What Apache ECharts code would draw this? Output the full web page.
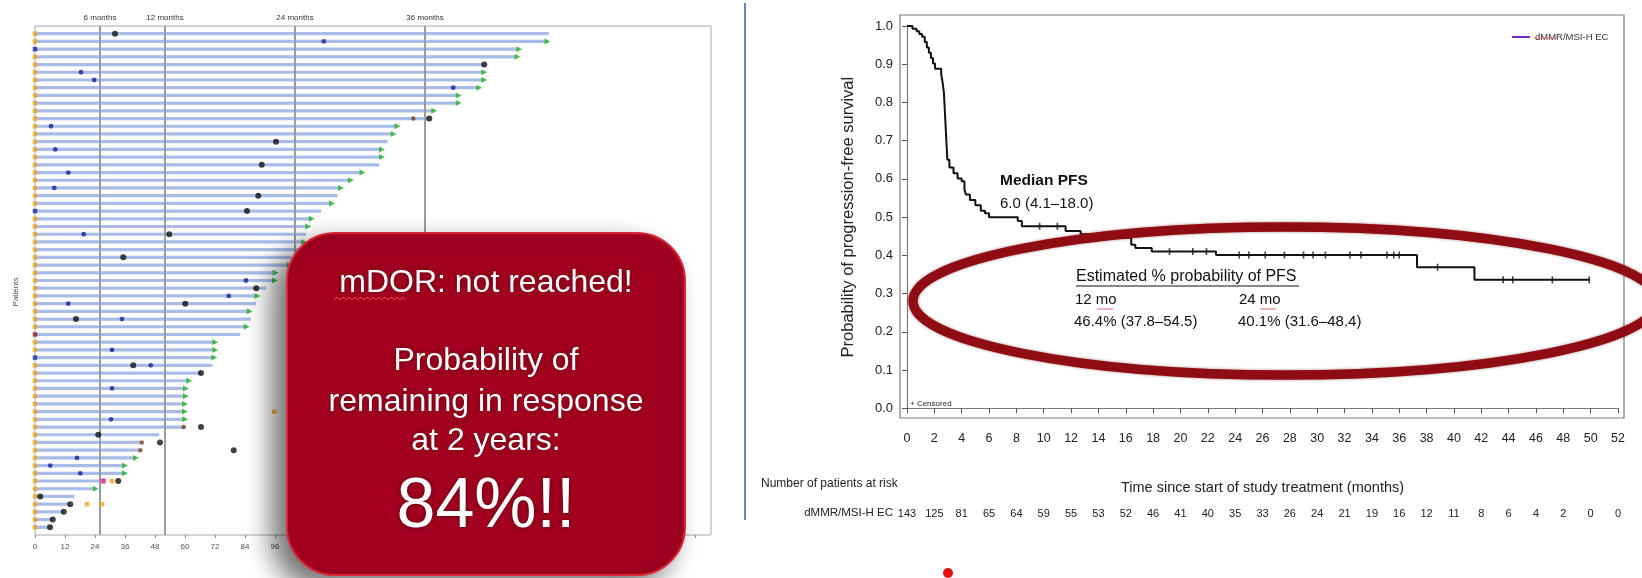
<!DOCTYPE html>
<html>
<head>
<meta charset="utf-8">
<script src="https://cdn.jsdelivr.net/npm/echarts@6/dist/echarts.min.js"></script>
<style>
  html, body { margin: 0; padding: 0; background: #ffffff; }
  #main { width: 1642px; height: 578px; }
</style>
</head>
<body>
<div id="main"></div>
<script>
// ---------------- Swimmer plot: duration of response (weeks), one row per patient, top to bottom ----------------
const responseWeeks = [205.5, 205, 193.7, 193, 179.7, 179.7, 179.7, 177.7, 169.5, 169.5,
  159.7, 157.7, 145, 143.5, 141, 138.8, 138.8, 137.7, 131, 126.4,
  122.4, 121, 118.8, 114.4, 110.7, 109.3, 108.4, 107.7, 107.3, 102.4,
  101.9, 96.3, 96, 92.4, 89, 88.4, 85.9, 86.4, 84.7, 82.1,
  72.1, 72.1, 71.7, 71, 66.4, 61.7, 60.4, 60.4, 60, 60,
  60.1, 59.5, 49.7, 42, 41.5, 40.4, 36, 36, 26.4, 24.3,
  15.7, 13.7, 11.5, 7.1, 6];
// marker at response start: o = orange, b = blue, r = dark red
const startMarker = ['o','o','b','o','o','o','o','o','o','o',
  'o','o','o','o','o','o','o','o','o','o',
  'o','o','o','b','o','o','o','o','o','o',
  'o','o','o','o','o','o','o','o','o','r',
  'o','o','b','o','o','o','o','o','o','o',
  'o','o','o','o','o','o','o','o','o','o',
  'o','o','o','o','o'];
// rows (1 = top) whose response is ongoing
const ongoingRows = [2,3,4,6,7,8,9,10,11,13,14,16,17,19,20,21,23,25,26,28,29,31,32,33,35,37,39,
  41,42,43,46,47,48,49,50,51,56,57,58,60];
// events as [weeks, row]
const blackDots = [[32,1],[179.7,5],[157.7,12],[96.4,15],[90.7,18],[89.3,22],[84.8,24],[53.7,27],
  [35.3,30],[88.5,34],[60.1,36],[16.4,38],[39.3,44],[66.4,45],[66.4,52],[25.3,53],[50,54],
  [79.5,55],[33.3,59],[2.1,61],[14.1,62],[11.5,63],[7.1,64],[6,65]];
const blueDots = [[115.5,2],[18.4,6],[23.7,7],[167.3,8],[6.4,13],[8.1,16],[13.3,19],[7.7,21],
  [19.5,27],[84.4,33],[77.5,35],[13.3,36],[34.8,38],[30.8,42],[46.3,44],[30.8,47],[30.4,51],
  [16.8,56],[6.1,57],[18.1,58]];
const brownDots = [[151.3,12],[59.5,52],[42.7,54],[42.1,55]];
const orangeMarks = [[95.7,50],[30.8,59],[20.8,62],[26.8,62]];
const magentaMarks = [[27.3,59]];
const landmarkWeeks = [26, 52, 104, 156];
const landmarkNames = ['6 months', '12 months', '24 months', '36 months'];

// ---------------- Kaplan-Meier progression-free survival ----------------
const kmMonths = [0, 0.4, 0.7, 0.9, 1.1, 1.3, 1.45, 1.6, 1.75, 1.9, 2.05, 2.5, 2.6, 2.7, 2.75, 2.8,
  2.85, 2.9, 2.95, 3.1, 3.4, 3.7, 4.0, 4.2, 4.3, 4.6, 5.0, 5.4, 5.7, 6.0, 8.1, 8.4,
  11.6, 12.7, 14.6, 16.4, 16.7, 17.9, 22.6, 37.3, 41.5, 49.9];
const kmSurv = [1.0, 0.993, 0.986, 0.979, 0.972, 0.958, 0.944, 0.93, 0.916, 0.902, 0.888, 0.874, 0.853, 0.825, 0.79, 0.755,
  0.72, 0.685, 0.65, 0.63, 0.615, 0.601, 0.594, 0.573, 0.559, 0.545, 0.531, 0.517, 0.51, 0.5, 0.49, 0.476,
  0.464, 0.455, 0.446, 0.428, 0.419, 0.41, 0.401, 0.369, 0.336, 0.336];
const censorMonths = [9.7, 11.0, 19.2, 20.9, 21.9, 24.3, 25.0, 26.2, 27.6, 29.0, 29.7, 30.6, 32.4, 33.2,
  35.1, 35.6, 36.0, 38.8, 43.6, 44.3, 47.2, 49.9];
const censorSurv = [0.476, 0.476, 0.41, 0.41, 0.41, 0.401, 0.401, 0.401, 0.401, 0.401, 0.401, 0.401, 0.401, 0.401,
  0.401, 0.401, 0.401, 0.369, 0.336, 0.336, 0.336, 0.336];
const atRiskMonths = [0,2,4,6,8,10,12,14,16,18,20,22,24,26,28,30,32,34,36,38,40,42,44,46,48,50,52];
const atRisk = [143,125,81,65,64,59,55,53,52,46,41,40,35,33,26,24,21,19,16,12,11,8,6,4,2,0,0];
const medianMonths = 6.0;
const landmarkMonths = [12, 24];

const ROWS = responseWeeks.length;
const rowValue = t => ROWS + 1 - t;
const SANS = '"Liberation Sans", Arial, sans-serif';
const NARROW = '"Liberation Sans Narrow", "Arial Narrow", "Liberation Sans", sans-serif';

const startColors = { o: '#f2a11c', b: '#1d2a9e', r: '#8e1a16' };

const chart = echarts.init(document.getElementById('main'), null, { renderer: 'canvas' });

const option = {
  animation: false,
  backgroundColor: '#ffffff',
  textStyle: { fontFamily: SANS },
  legend: {
    data: [{ name: 'dMMR/MSI-H EC', icon: 'rect', itemStyle: { color: '#6b2fc4' } }],
    left: 1507, top: 27, itemWidth: 18, itemHeight: 2, itemGap: 4,
    textStyle: { fontSize: 9.5, color: '#333', fontFamily: NARROW },
    selectedMode: false
  },
  grid: [
    { left: 35, top: 26, width: 676, height: 511, show: true, borderColor: '#a8a8a8', borderWidth: 1, backgroundColor: 'transparent' },
    { left: 900, top: 15, width: 724, height: 403, show: true, borderColor: '#7a7a7a', borderWidth: 1.2, backgroundColor: 'transparent' },
    { left: 907, top: 26, width: 711, height: 382.3 },
    { left: 907, top: 504, width: 711, height: 1 }
  ],
  xAxis: [
    {
      gridIndex: 0, type: 'value', min: 0, max: 270.4, interval: 12,
      name: 'Time since first response (weeks)', nameLocation: 'middle', nameGap: 29,
      nameTextStyle: { fontSize: 8.5, color: '#444' },
      axisLine: { show: false }, splitLine: { show: false },
      axisTick: { show: true, length: 3, lineStyle: { color: '#888' } },
      axisLabel: { fontSize: 8, color: '#555', margin: 8, showMaxLabel: false,
        formatter: v => (v <= 252 ? String(v) : '') }
    },
    { gridIndex: 1, type: 'value', min: 0, max: 1, show: false },
    {
      gridIndex: 2, type: 'value', min: 0, max: 52, interval: 2, offset: 10,
      name: 'Time since start of study treatment (months)', nameLocation: 'middle', nameGap: 62,
      nameTextStyle: { fontSize: 14.5, color: '#222', fontFamily: NARROW },
      axisLine: { show: true, lineStyle: { color: '#7a7a7a', width: 1.2 } },
      axisTick: { show: true, length: 5, lineStyle: { color: '#555' } },
      axisLabel: { fontSize: 12.5, color: '#222', margin: 14, fontFamily: NARROW },
      splitLine: { show: false }
    },
    {
      gridIndex: 3, type: 'value', min: 0, max: 52, interval: 2,
      axisLine: { show: false }, axisTick: { show: false }, splitLine: { show: false },
      axisLabel: { fontSize: 11, color: '#222', margin: 3, fontFamily: NARROW,
        formatter: v => String(atRisk[atRiskMonths.indexOf(v)]) }
    }
  ],
  yAxis: [
    {
      gridIndex: 0, type: 'value', min: 0, max: 66,
      axisLine: { show: false }, axisTick: { show: false }, axisLabel: { show: false }, splitLine: { show: false }
    },
    { gridIndex: 1, type: 'value', min: 0, max: 1, show: false },
    {
      gridIndex: 2, type: 'value', min: 0, max: 1, interval: 0.1, offset: 7,
      name: 'Probability of progression-free survival', nameLocation: 'middle', nameGap: 43, nameRotate: 90,
      nameTextStyle: { fontSize: 16.5, color: '#222', fontFamily: NARROW },
      axisLine: { show: true, lineStyle: { color: '#7a7a7a', width: 1.2 } },
      axisTick: { show: true, length: 5, lineStyle: { color: '#555' } },
      axisLabel: { fontSize: 13, color: '#222', margin: 7, fontFamily: NARROW, formatter: v => v.toFixed(1) },
      splitLine: { show: false }
    },
    { gridIndex: 3, type: 'value', min: 0, max: 1, show: false }
  ],
  series: [
    // response duration bars
    {
      type: 'custom', xAxisIndex: 0, yAxisIndex: 0, z: 2,
      data: responseWeeks.map((w, i) => [rowValue(i + 1), w]),
      encode: { x: 1, y: 0 },
      renderItem: (params, api) => {
        const row = api.value(0);
        const p0 = api.coord([0, row]);
        const p1 = api.coord([api.value(1), row]);
        return { type: 'line', shape: { x1: p0[0], y1: p0[1], x2: p1[0], y2: p1[1] },
          style: { stroke: '#a9bce9', lineWidth: 3.2 } };
      }
    },
    // month landmarks
    {
      type: 'scatter', xAxisIndex: 0, yAxisIndex: 0, z: 3, data: [],
      markLine: {
        silent: true, symbol: 'none',
        lineStyle: { color: '#9c9c9c', width: 2, type: 'solid' },
        label: { show: true, position: 'end', distance: 4, fontSize: 8, color: '#333', formatter: p => p.name },
        data: landmarkWeeks.map((w, i) => ({ xAxis: w, name: landmarkNames[i] }))
      }
    },
    {
      type: 'scatter', xAxisIndex: 0, yAxisIndex: 0, z: 4, symbol: 'rect', symbolSize: 4.5,
      data: startMarker.map((m, i) => ({ value: [0, rowValue(i + 1)], itemStyle: { color: startColors[m] } }))
    },
    {
      type: 'scatter', xAxisIndex: 0, yAxisIndex: 0, z: 5, symbol: 'triangle', symbolRotate: -90, symbolSize: [6, 6],
      itemStyle: { color: '#2db42a' },
      data: ongoingRows.map(t => [responseWeeks[t - 1], rowValue(t)])
    },
    {
      type: 'scatter', xAxisIndex: 0, yAxisIndex: 0, z: 5, symbolSize: 4.8, itemStyle: { color: '#1d2296' },
      data: blueDots.map(d => [d[0], rowValue(d[1])])
    },
    {
      type: 'scatter', xAxisIndex: 0, yAxisIndex: 0, z: 5, symbolSize: 4.5, itemStyle: { color: '#7b3a1c' },
      data: brownDots.map(d => [d[0], rowValue(d[1])])
    },
    {
      type: 'scatter', xAxisIndex: 0, yAxisIndex: 0, z: 6, symbolSize: 6, itemStyle: { color: '#111111' },
      data: blackDots.map(d => [d[0], rowValue(d[1])])
    },
    {
      type: 'scatter', xAxisIndex: 0, yAxisIndex: 0, z: 5, symbol: 'rect', symbolSize: 4.5, itemStyle: { color: '#f2a11c' },
      data: orangeMarks.map(d => [d[0], rowValue(d[1])])
    },
    {
      type: 'scatter', xAxisIndex: 0, yAxisIndex: 0, z: 5, symbol: 'rect', symbolSize: 5, itemStyle: { color: '#e0197d' },
      data: magentaMarks.map(d => [d[0], rowValue(d[1])])
    },
    // frame grid placeholder
    { type: 'scatter', xAxisIndex: 1, yAxisIndex: 1, data: [] },
    // KM curve
    {
      name: 'dMMR/MSI-H EC', type: 'line', xAxisIndex: 2, yAxisIndex: 2, step: 'end', clip: false,
      showSymbol: false, symbol: 'none', z: 4,
      lineStyle: { color: '#111111', width: 2 }, itemStyle: { color: '#111111' },
      data: kmMonths.map((m, i) => [m, kmSurv[i]]),
      markLine: {
        silent: true, symbol: 'none', label: { show: false },
        data: [
          [{ coord: [-0.5, 0.5], lineStyle: { color: '#666', width: 1.3, type: [4, 3] } }, { coord: [medianMonths, 0.5] }],
          [{ coord: [medianMonths, 0.5], lineStyle: { color: '#555', width: 1.3, type: [5, 3] } }, { coord: [medianMonths, -0.025] }],
          ...landmarkMonths.map(m => [
            { coord: [m, 1.028], lineStyle: { color: '#bdbdbd', width: 1.1, type: [5, 4] } },
            { coord: [m, -0.025] }
          ])
        ]
      }
    },
    {
      type: 'scatter', xAxisIndex: 2, yAxisIndex: 2, z: 5, symbol: 'rect', symbolSize: [1.6, 7],
      itemStyle: { color: '#111111' },
      data: censorMonths.map((m, i) => [m, censorSurv[i]])
    },
    { type: 'scatter', xAxisIndex: 3, yAxisIndex: 3, data: [] }
  ],
  graphic: [
    // swimmer y-axis title
    { type: 'text', z: 50, x: 16, y: 292, rotation: Math.PI / 2,
      style: { text: 'Patients', font: '8px ' + SANS, fill: '#555', align: 'center', verticalAlign: 'middle' } },
    // panel divider
    { type: 'line', z: 50, shape: { x1: 745, y1: 3, x2: 745, y2: 520 }, style: { stroke: '#6687bd', lineWidth: 2 } },
    // KM annotations
    { type: 'text', z: 50, x: 1000, y: 181, style: { text: 'Median PFS', font: 'bold 15.5px ' + NARROW, fill: '#111', verticalAlign: 'middle' } },
    { type: 'text', z: 50, x: 1000, y: 204, style: { text: '6.0 (4.1\u201318.0)', font: '15px ' + NARROW, fill: '#111', verticalAlign: 'middle' } },
    { type: 'text', z: 50, x: 1076, y: 277, style: { text: 'Estimated % probability of PFS', font: '16px ' + NARROW, fill: '#111', verticalAlign: 'middle' } },
    { type: 'line', z: 50, shape: { x1: 1076, y1: 286, x2: 1299, y2: 286 }, style: { stroke: '#111', lineWidth: 1.2 } },
    { type: 'text', z: 50, x: 1075, y: 300, style: { text: '12 mo', font: '15px ' + NARROW, fill: '#111', verticalAlign: 'middle' } },
    { type: 'text', z: 50, x: 1074, y: 322, style: { text: '46.4% (37.8\u201354.5)', font: '15px ' + NARROW, fill: '#111', verticalAlign: 'middle' } },
    { type: 'text', z: 50, x: 1239, y: 300, style: { text: '24 mo', font: '15px ' + NARROW, fill: '#111', verticalAlign: 'middle' } },
    { type: 'text', z: 50, x: 1238, y: 322, style: { text: '40.1% (31.6\u201348.4)', font: '15px ' + NARROW, fill: '#111', verticalAlign: 'middle' } },
    { type: 'line', z: 50, shape: { x1: 1097, y1: 309, x2: 1113, y2: 309 }, style: { stroke: '#e56b6b', lineWidth: 1 } },
    { type: 'line', z: 50, shape: { x1: 1260, y1: 309, x2: 1276, y2: 309 }, style: { stroke: '#e56b6b', lineWidth: 1 } },
    { type: 'line', z: 50, shape: { x1: 1534, y1: 38, x2: 1557, y2: 38 }, style: { stroke: '#e56b6b', lineWidth: 1 } },
    { type: 'text', z: 50, x: 910, y: 404, style: { text: '+ Censored', font: '8px ' + NARROW, fill: '#222', verticalAlign: 'middle' } },
    // number at risk table
    { type: 'text', z: 50, x: 761, y: 484, style: { text: 'Number of patients at risk', font: '12px ' + NARROW, fill: '#222', verticalAlign: 'middle' } },
    { type: 'text', z: 50, x: 893, y: 513, style: { text: 'dMMR/MSI-H EC', font: '11.5px ' + NARROW, fill: '#222', align: 'right', verticalAlign: 'middle' } },
    // highlight ring
    { type: 'ellipse', z: 60, shape: { cx: 1285, cy: 301, rx: 372, ry: 74 },
      style: { fill: 'none', stroke: '#8f0c14', lineWidth: 9.5, shadowBlur: 3, shadowColor: 'rgba(90,0,0,0.5)' } },
    // callout box over the swimmer plot
    { type: 'rect', z: 70, shape: { x: 287, y: 233, width: 398, height: 342, r: 48 },
      style: { fill: '#a3001f', stroke: '#d8283a', lineWidth: 2,
        shadowBlur: 26, shadowOffsetX: -14, shadowOffsetY: 12, shadowColor: 'rgba(0,0,0,0.55)' } },
    { type: 'text', z: 71, x: 486, y: 283, style: { text: 'mDOR: not reached!', font: '32px ' + SANS, fill: '#ffffff',
      align: 'center', verticalAlign: 'middle', textShadowColor: '#5c0010', textShadowBlur: 5 } },
    { type: 'polyline', z: 71, shape: { points: [[334,300],[337,297],[340,300],[343,297],[346,300],[349,297],[352,300],[355,297],[358,300],[361,297],[364,300],[367,297],[370,300],[373,297],[376,300],[379,297],[382,300],[385,297],[388,300],[391,297],[394,300],[397,297],[400,300],[403,297],[405,300]] },
      style: { stroke: '#f04a5a', lineWidth: 1, fill: null } },
    { type: 'text', z: 71, x: 486, y: 361, style: { text: 'Probability of', font: '32px ' + SANS, fill: '#ffffff',
      align: 'center', verticalAlign: 'middle', textShadowColor: '#5c0010', textShadowBlur: 5 } },
    { type: 'text', z: 71, x: 486, y: 402, style: { text: 'remaining in response', font: '32px ' + SANS, fill: '#ffffff',
      align: 'center', verticalAlign: 'middle', textShadowColor: '#5c0010', textShadowBlur: 5 } },
    { type: 'text', z: 71, x: 486, y: 441, style: { text: 'at 2 years:', font: '32px ' + SANS, fill: '#ffffff',
      align: 'center', verticalAlign: 'middle', textShadowColor: '#5c0010', textShadowBlur: 5 } },
    { type: 'text', z: 71, x: 486, y: 508, style: { text: '84%!!', font: '70px ' + SANS, fill: '#ffffff',
      align: 'center', verticalAlign: 'middle', textShadowColor: '#5c0010', textShadowBlur: 5 } },
    // marker dot
    { type: 'circle', z: 50, shape: { cx: 948, cy: 573, r: 5 }, style: { fill: '#e51010' } }
  ]
};

chart.setOption(option);
</script>
</body>
</html>
